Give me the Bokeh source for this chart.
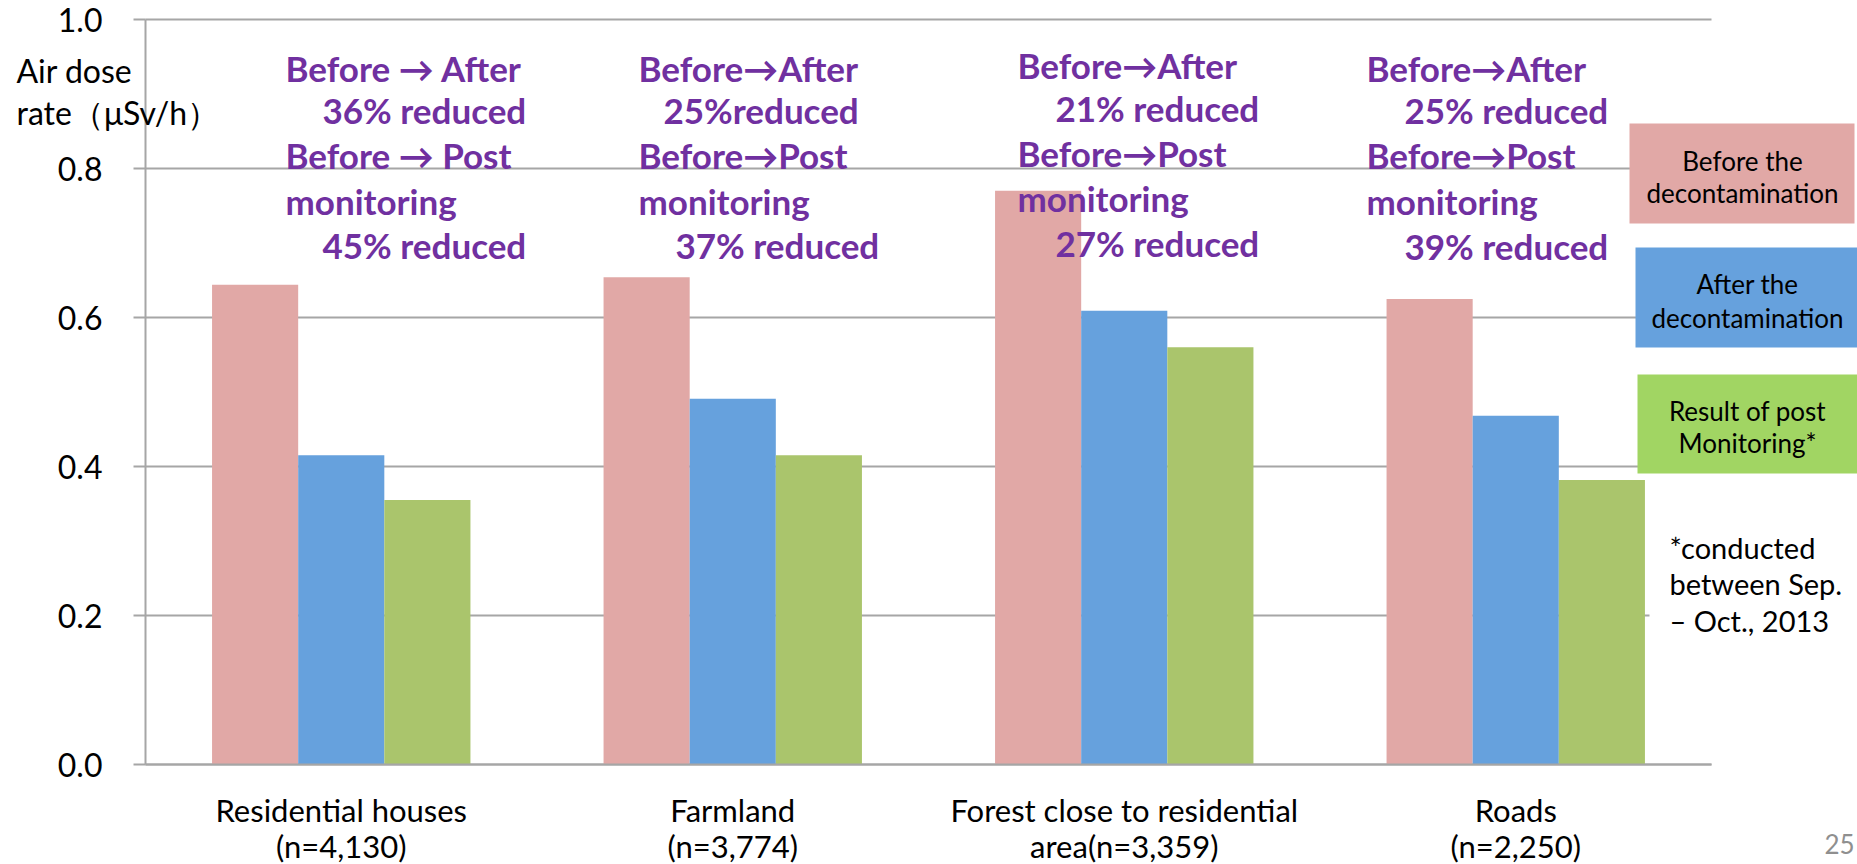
from bokeh.plotting import figure
from bokeh.models import Range1d, FixedTicker, Label, ColumnDataSource, PrintfTickFormatter
from bokeh.transform import dodge
from bokeh.embed import file_html
from bokeh.resources import INLINE

# ---- data -------------------------------------------------------------
categories = [
    "Residential houses\n(n=4,130)",
    "Farmland\n(n=3,774)",
    "Forest close to residential\narea(n=3,359)",
    "Roads\n(n=2,250)",
]
series_names = [
    "Before the\ndecontamination",
    "After the\ndecontamination",
    "Result of post\nMonitoring*",
]
before = [0.644, 0.654, 0.770, 0.625]
after = [0.415, 0.491, 0.609, 0.468]
post = [0.355, 0.415, 0.560, 0.382]
y_ticks = [0.0, 0.2, 0.4, 0.6, 0.8, 1.0]

notes = [
    ["Before \u2192 After", "36% reduced", "Before \u2192 Post", "monitoring", "45% reduced"],
    ["Before\u2192After", "25%reduced", "Before\u2192Post", "monitoring", "37% reduced"],
    ["Before\u2192After", "21% reduced", "Before\u2192Post", "monitoring", "27% reduced"],
    ["Before\u2192After", "25% reduced", "Before\u2192Post", "monitoring", "39% reduced"],
]
footnote = ["*conducted", "between Sep.", "\u2013 Oct., 2013"]
y_title = ["Air dose", "rate\uff08\u03bcSv/h\uff09"]
page_number = "25"

# ---- layout helpers (pixel layout -> data space) -----------------------
W, H = 1857, 864
LEFT = 145          # pixel column of the value axis
UNIT = 391.5        # pixels per category
ZERO = 764          # pixel row of y = 0
SCALE = 745         # pixels per 1.0 of dose rate


def X(px):
    return (px - LEFT) / UNIT


def Y(py):
    return (ZERO - py) / SCALE


PINK = "#E1A8A6"
BLUE = "#66A1DD"
GREEN = "#AAC56C"
LEG_GREEN = "#A1D563"
GRID = "#A6A6A6"
PURPLE = "#7030A0"
FONT = "Lato"

# the frame covers the whole canvas; axes are pinned inside it
p = figure(
    width=W, height=H,
    x_range=Range1d(X(0), X(W)),
    y_range=Range1d(Y(H), Y(0)),
    min_border=0,
    output_backend="svg", toolbar_location=None,
)
p.outline_line_color = None
p.grid.visible = False
p.background_fill_color = "white"
p.border_fill_color = "white"

# y axis at x = 0
p.yaxis.fixed_location = 0
p.yaxis.ticker = FixedTicker(ticks=y_ticks)
p.yaxis.formatter = PrintfTickFormatter(format="%.1f")
p.yaxis.bounds = (0, 1)
p.yaxis.axis_line_color = GRID
p.yaxis.axis_line_width = 2
p.yaxis.major_tick_line_color = GRID
p.yaxis.major_tick_line_width = 2
p.yaxis.major_tick_out = 12
p.yaxis.major_tick_in = 0
p.yaxis.minor_tick_line_color = None
p.yaxis.major_label_text_font = FONT
p.yaxis.major_label_text_font_size = "32px"
p.yaxis.major_label_text_color = "black"
p.yaxis.major_label_standoff = 31

# x axis at y = 0 with category labels
centers = [i + 0.5 for i in range(len(categories))]
p.xaxis.fixed_location = 0
p.xaxis.bounds = (0, len(categories))
p.xaxis.ticker = FixedTicker(ticks=centers)
p.xaxis.major_label_overrides = {c: name for c, name in zip(centers, categories)}
p.xaxis.axis_line_color = GRID
p.xaxis.axis_line_width = 2
p.xaxis.major_tick_line_color = None
p.xaxis.minor_tick_line_color = None
p.xaxis.major_label_text_font = FONT
p.xaxis.major_label_text_font_size = "31px"
p.xaxis.major_label_text_line_height = 0.95
p.xaxis.major_label_text_color = "black"
p.xaxis.major_label_standoff = 20

# horizontal gridlines across the category span
p.segment(x0=0, x1=len(categories), y0=y_ticks, y1=y_ticks,
          line_color=GRID, line_width=2)

# grouped bars
src = ColumnDataSource(dict(x=centers, before=before, after=after, post=post))
bw = 0.22
p.vbar(x=dodge("x", -bw), top="before", width=bw, source=src,
       fill_color=PINK, line_color=None)
p.vbar(x="x", top="after", width=bw, source=src,
       fill_color=BLUE, line_color=None)
p.vbar(x=dodge("x", bw), top="post", width=bw, source=src,
       fill_color=GREEN, line_color=None)

# white text box behind the footnote
p.quad(left=X(1649), right=X(W + 5), top=Y(528), bottom=Y(642),
       fill_color="white", line_color=None)

# legend boxes
legend_boxes = [
    (1629, 1854, 123, 223, PINK, 1742, (160, 192)),
    (1635, W + 5, 247, 347, BLUE, 1747, (283, 317)),
    (1637, W + 5, 374, 473, LEG_GREEN, 1747, (410, 442)),
]
for (l, r, t, b, col, cx, rows), name in zip(legend_boxes, series_names):
    p.quad(left=X(l), right=X(r), top=Y(t), bottom=Y(b),
           fill_color=col, line_color=None)
    for row, line in zip(rows, name.split("\n")):
        p.add_layout(Label(x=X(cx), y=Y(row), text=line, text_font=FONT,
                           text_font_size="26px", text_color="black",
                           text_align="center", text_baseline="middle"))

# reduction notes above each group
note_left = [285, 638, 1017, 1366]
note_indent = [(37, 37), (25, 37), (38, 38), (38, 38)]
note_rows = [(67, 109, 154, 200, 244), (67, 109, 154, 200, 244),
             (64, 107, 152, 197, 242), (67, 109, 154, 200, 245)]
for lines, x0, (i2, i5), rows in zip(notes, note_left, note_indent, note_rows):
    xs = [x0, x0 + i2, x0, x0, x0 + i5]
    for line, xp, yp in zip(lines, xs, rows):
        p.add_layout(Label(x=X(xp), y=Y(yp), text=line, text_font=FONT,
                           text_font_size="35px", text_font_style="bold",
                           text_color=PURPLE, text_align="left",
                           text_baseline="middle"))

# axis title, written horizontally over the axis
for line, yp in zip(y_title, (70, 112)):
    p.add_layout(Label(x=X(16), y=Y(yp), text=line, text_font=FONT,
                       text_font_size="32px", text_color="black",
                       text_align="left", text_baseline="middle"))

# footnote
for line, yp in zip(footnote, (547, 583, 620)):
    p.add_layout(Label(x=X(1669), y=Y(yp), text=line, text_font=FONT,
                       text_font_size="29px", text_color="black",
                       text_align="left", text_baseline="middle"))

# page number
p.add_layout(Label(x=X(1824), y=Y(843), text=page_number, text_font=FONT,
                   text_font_size="26px", text_color="#8F8F8F",
                   text_align="left", text_baseline="middle"))

open("out.html", "w").write(file_html(p, INLINE))
